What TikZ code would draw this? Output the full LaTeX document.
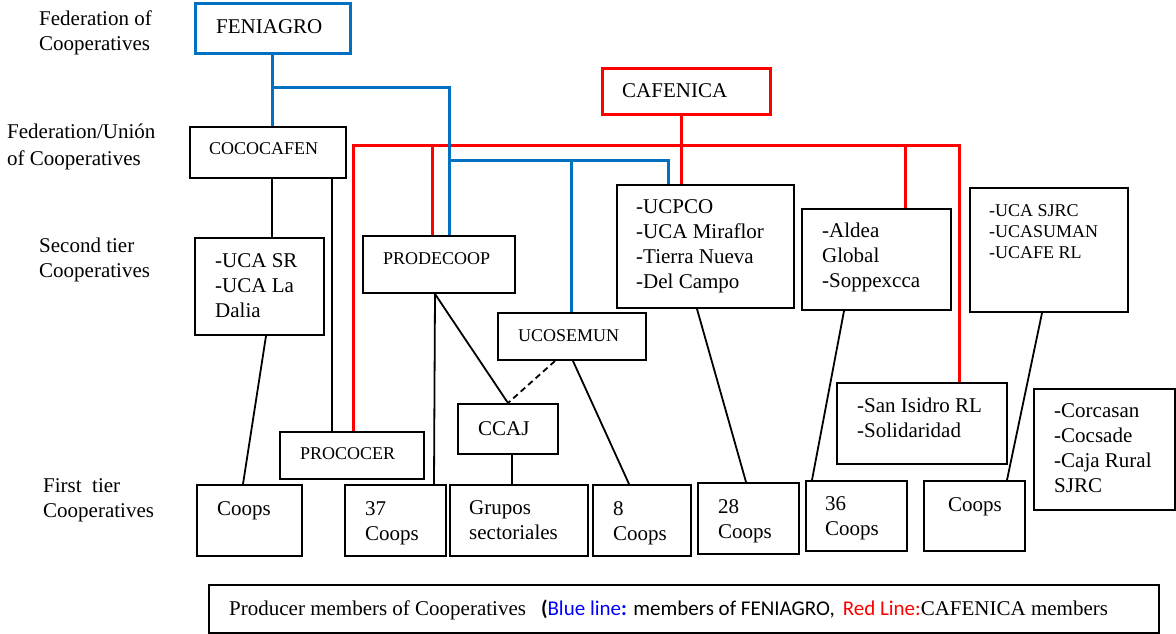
\documentclass[tikz,border=0pt]{standalone}
\usepackage{fontspec}
\setmainfont{Liberation Serif}
\newfontfamily\calfont{Carlito}
\usetikzlibrary{calc}
\definecolor{fblue}{RGB}{0,112,192}
\definecolor{fred}{RGB}{255,0,0}
\newcommand\mylines[1]{\begin{tabular}[t]{@{}l@{}}#1\end{tabular}}
\newcommand\bx[6][]{\node[box,minimum width={#5-#3},minimum height={#6-#4},#1] (#2) at (#3,#4) {};}
\begin{document}
\begin{tikzpicture}[x=1pt,y=-1pt,
  box/.style={draw, line width=2pt, inner sep=0pt, anchor=north west},
  bl/.style={draw=fblue, line width=3pt},
  rl/.style={draw=fred, line width=3pt},
  kl/.style={draw=black, line width=1.8pt},
  big/.style={font=\fontsize{21}{25}\selectfont, inner sep=0pt, anchor=base west},
  sm/.style={font=\fontsize{18}{21}\selectfont, inner sep=0pt, anchor=base west},
]
\useasboundingbox (0,0) rectangle (1176,634);

% left labels
\node[big] (l1) at (39,26) {\mylines{Federation of\\Cooperatives}};
\node[big] (l2) at (7,139) {\mylines{Federation/Unión\\[2pt]of Cooperatives}};
\node[big] (l3) at (39,252) {\mylines{Second tier\\Cooperatives}};
\node[big] (l4) at (43,492) {\mylines{First\ \ tier\\Cooperatives}};

% boxes
\bx[draw=fblue,line width=3pt]{feniagro}{194}{2}{349}{52}
\bx[draw=fred,line width=3pt]{cafenica}{601}{67}{769}{113}
\bx{cococafen}{189}{126}{345}{177}
\bx{prodecoop}{362}{235}{514}{292}
\bx{ucosemun}{497}{312}{645}{359}
\bx{procoer}{279}{431}{423}{478}
\bx{ccaj}{457}{403}{557}{453}
\bx{ucasr}{194}{237}{323}{334}
\bx{ucpco}{616}{184}{793}{307}
\bx{aldea}{801}{208}{950}{309}
\bx{ucasjrc}{969}{187}{1127}{311}
\bx{sanisidro}{836}{382}{1006}{463}
\bx{corcasan}{1033}{388}{1174}{509}
\bx{coopsL}{196}{484}{301}{555}
\bx{c37}{344}{484}{445}{555}
\bx{grupos}{449}{484}{587}{555}
\bx{c8}{592}{484}{690}{555}
\bx{c28}{697}{482}{798}{553}
\bx{c36}{805}{480}{906}{550}
\bx{coopsR}{923}{480}{1024}{550}
\bx{legend}{208}{584}{1158}{632}

% texts
\node[big] (t-feniagro) at (216,34) {FENIAGRO};
\node[big] (t-cafenica) at (622,98) {CAFENICA};
\node[sm] (t-cococafen) at (209,154) {COCOCAFEN};
\node[sm] (t-prodecoop) at (383,264) {PRODECOOP};
\node[sm] (t-ucosemun) at (518,341) {UCOSEMUN};
\node[sm] (t-procoer) at (300,459) {PROCOCER};
\node[big] (t-ccaj) at (478,435) {CCAJ};
\node[big] (t-ucasr) at (215,267) {\mylines{-UCA SR\\-UCA La\\Dalia}};
\node[big] (t-ucpco) at (636,213) {\mylines{-UCPCO\\-UCA Miraflor\\-Tierra Nueva\\-Del Campo}};
\node[big] (t-aldea) at (822,237) {\mylines{-Aldea\\Global\\-Soppexcca}};
\node[sm] (t-ucasjrc) at (989,216) {\mylines{-UCA SJRC\\-UCASUMAN\\-UCAFE RL}};
\node[big] (t-sanisidro) at (857,412) {\mylines{-San Isidro RL\\-Solidaridad}};
\node[big] (t-corcasan) at (1054,417) {\mylines{-Corcasan\\-Cocsade\\-Caja Rural\\SJRC}};
\node[big] (t-coopsL) at (217,515) {Coops};
\node[big] (t-c37) at (365,515) {\mylines{37\\Coops}};
\node[big] (t-grupos) at (469,514) {\mylines{Grupos\\sectoriales}};
\node[big] (t-c8) at (613,515) {\mylines{8\\Coops}};
\node[big] (t-c28) at (718,513) {\mylines{28\\Coops}};
\node[big] (t-c36) at (825,510) {\mylines{36\\Coops}};
\node[big] (t-coopsR) at (948,511) {Coops};
\node[big] (t-legend) at (229,615) {Producer members of Cooperatives\hspace{15pt}{\calfont\textbf{(}\textcolor{blue}{Blue line\textbf{:}} members of FENIAGRO,\hspace{8pt}\textcolor{fred}{Red Line:}}CAFENICA members};

% black connectors
\draw[kl] ([xshift=83pt]cococafen.south west) -- ([xshift=78pt]ucasr.north west);
\draw[kl] ([xshift=143pt]cococafen.south west) -- ([xshift=53pt]procoer.north west);
\draw[kl] ([xshift=72pt]ucasr.south west) -- ([xshift=47pt]coopsL.north west);
\draw[kl] ([xshift=73pt]prodecoop.south west) -- ([xshift=90pt]c37.north west);
\draw[kl] ([xshift=73pt]prodecoop.south west) -- ([xshift=51pt]ccaj.north west);
\draw[kl,dashed,dash pattern=on 6pt off 4pt] ([xshift=58pt]ucosemun.south west) -- ([xshift=51pt]ccaj.north west);
\draw[kl] ([xshift=76pt]ucosemun.south west) -- ([xshift=37pt]c8.north west);
\draw[kl] ([xshift=55pt]ccaj.south west) -- ([xshift=63pt]grupos.north west);
\draw[kl] ([xshift=81pt]ucpco.south west) -- ([xshift=49pt]c28.north west);
\draw[kl] ([xshift=43pt]aldea.south west) -- ([xshift=7pt]c36.north west);
\draw[kl] ([xshift=73pt]ucasjrc.south west) -- ([xshift=84pt]coopsR.north west);

% red connectors
\coordinate (rj1) at (681,145);
\coordinate (rj2) at (432,145);
\coordinate (rj3) at (905,145);
\draw[rl] ([xshift=80pt]cafenica.south west) -- ([xshift=65pt]ucpco.north west);
\draw[rl] ([xshift=74pt]procoer.north west) |- (rj1) -| ([xshift=123pt]sanisidro.north west);
\draw[rl] (rj2) -- ([xshift=70pt]prodecoop.north west);
\draw[rl] (rj3) -- ([xshift=104pt]aldea.north west);

% blue connectors
\coordinate (bj1) at (272,88);
\coordinate (bj2) at (449,160);
\coordinate (bj3) at (571,160);
\draw[bl] ([xshift=78pt]feniagro.south west) -- ([xshift=83pt]cococafen.north west);
\draw[bl] (bj1) -| ([xshift=87pt]prodecoop.north west);
\draw[bl] (bj2) -| ([xshift=52pt]ucpco.north west);
\draw[bl] (bj3) -- ([xshift=74pt]ucosemun.north west);
\end{tikzpicture}
\end{document}
